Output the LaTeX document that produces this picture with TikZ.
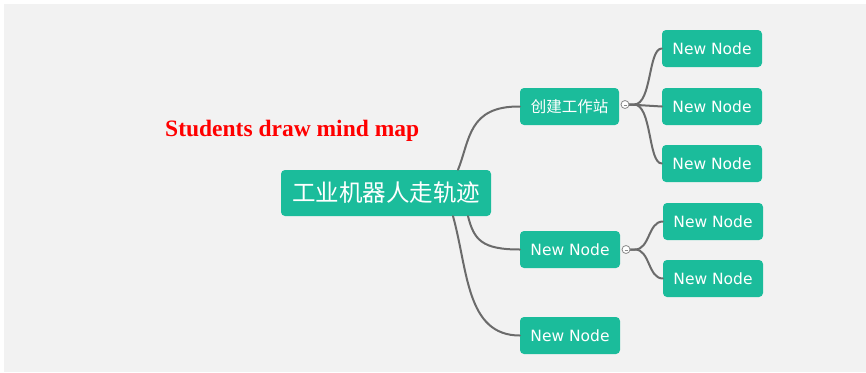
\documentclass[tikz,border=0pt]{standalone}
\usepackage{fontspec}
\setmainfont{DejaVu Sans}
\newfontfamily\cjkfont{Noto Sans CJK SC}
\newfontfamily\titlefont{Liberation Serif}
\usetikzlibrary{calc}
\definecolor{canvas}{HTML}{F2F2F2}
\definecolor{topic}{HTML}{1BBC9B}
\definecolor{branch}{HTML}{6B6B6B}
\definecolor{knob}{HTML}{8A8A8A}
\tikzset{
  topicbox/.style={fill=topic, rounded corners=4pt, text=white, inner sep=0pt,
    minimum width=100pt, minimum height=37pt, font=\fontsize{15.5}{18}\selectfont},
  rootbox/.style={topicbox, minimum width=210pt, minimum height=46pt,
    font=\cjkfont\fontsize{23.5}{28}\selectfont},
  link/.style={draw=branch, line width=2pt, line cap=round},
  collapser/.style={circle, draw=knob, fill=white, line width=0.8pt,
    minimum size=8pt, inner sep=0pt}
}
\begin{document}
\begin{tikzpicture}[x=1pt, y=-1pt]
  % canvas
  \useasboundingbox (0,0) rectangle (866,372);
  \fill[white] (0,0) rectangle (866,372);
  \fill[canvas] (4,4) rectangle (866,372);

  % title
  \node[anchor=base west, inner sep=0pt, text=red,
        font=\titlefont\bfseries\fontsize{23.5}{28}\selectfont] (title) at (165,136)
        {Students draw mind map};

  % topics
  \node[rootbox] (root) at (386,193) {工业机器人走轨迹};
  \node[topicbox, minimum width=99pt, font=\cjkfont\fontsize{15.5}{18}\selectfont]
        (ws) at (569.5,106.5) {创建工作站};
  \node[topicbox] (mid) at (570,249.5) {New Node};
  \node[topicbox] (low) at (570,335.5) {New Node};
  \node[topicbox] (ws1) at (712,48.5) {New Node};
  \node[topicbox] (ws2) at (712,106.5) {New Node};
  \node[topicbox] (ws3) at (712,163.5) {New Node};
  \node[topicbox] (mid1) at (713,221.5) {New Node};
  \node[topicbox] (mid2) at (713,278.5) {New Node};

  % collapse knob positions
  \coordinate (k1) at (625,104.5);
  \coordinate (k2) at (626,249.5);

  % branches from the central topic
  \draw[link] ($(root.north)+(72,0)$) .. controls (470,140) and (468,106) .. (ws.west);
  \draw[link] ($(root.south)+(82,0)$) .. controls (474,240) and (482,249.5) .. (mid.west);
  \draw[link] ($(root.south)+(67,0)$) .. controls (468,270) and (466,335.5) .. (low.west);

  % sub-branches
  \draw[link] ($(k1)+(4,0)$) -- ++(5,0) .. controls (652,104.5) and (648,48.5) .. (ws1.west);
  \draw[link] ($(k1)+(4,0)$) -- (ws2.west);
  \draw[link] ($(k1)+(4,0)$) -- ++(5,0) .. controls (652,104.5) and (648,163.5) .. (ws3.west);
  \draw[link] ($(k2)+(4,0)$) -- ++(5,0) .. controls (650,249.5) and (648,221.5) .. (mid1.west);
  \draw[link] ($(k2)+(4,0)$) -- ++(5,0) .. controls (650,249.5) and (648,278.5) .. (mid2.west);

  % collapse knobs over the branch ends
  \node[collapser] (knob1) at (k1) {};
  \node[collapser] (knob2) at (k2) {};
  \draw[knob, line width=0.6pt] ($(knob1)+(-1.5,1)$) -- ($(knob1)+(1.5,1)$);
  \draw[knob, line width=0.6pt] ($(knob2)+(-1.5,1)$) -- ($(knob2)+(1.5,1)$);
\end{tikzpicture}
\end{document}
